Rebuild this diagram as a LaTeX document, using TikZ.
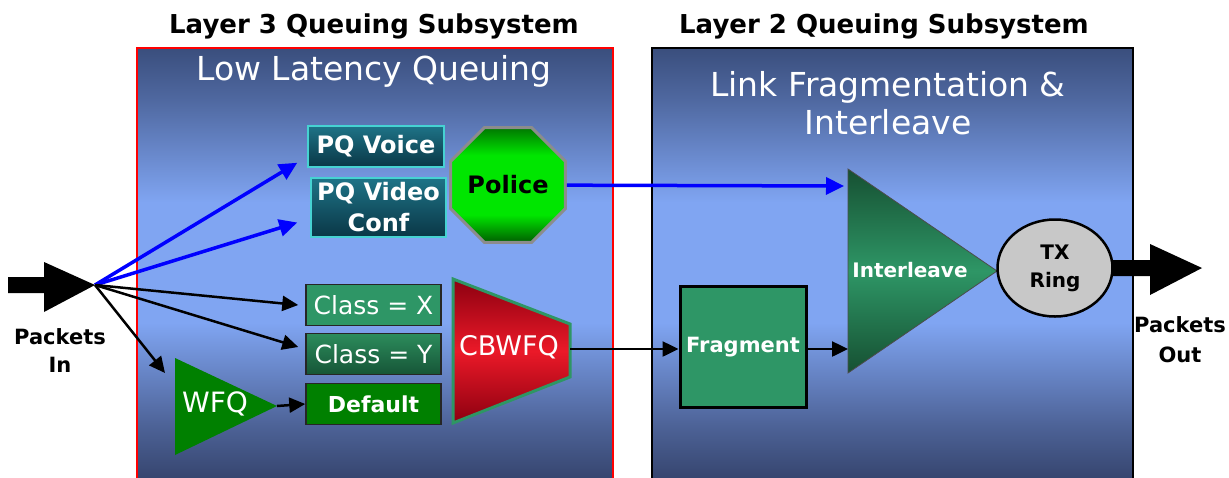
\documentclass[tikz,border=0pt]{standalone}
\usepackage{fontspec}
\setmainfont{DejaVu Sans}
\usetikzlibrary{shapes.geometric,arrows.meta,calc}
\definecolor{panTop}{RGB}{58,78,125}
\definecolor{panMid}{RGB}{128,165,242}
\definecolor{panBot}{RGB}{55,70,112}
\definecolor{pqTop}{RGB}{30,115,135}
\definecolor{pqBot}{RGB}{10,55,70}
\definecolor{pqBorder}{RGB}{70,210,210}
\definecolor{polTop}{RGB}{0,120,0}
\definecolor{polMid}{RGB}{0,230,0}
\definecolor{polBot}{RGB}{0,95,0}
\definecolor{polBorder}{RGB}{140,140,140}
\definecolor{clsX}{RGB}{46,150,102}
\definecolor{clsYTop}{RGB}{44,140,92}
\definecolor{clsYBot}{RGB}{22,85,55}
\definecolor{dflt}{RGB}{0,128,0}
\definecolor{wfqGreen}{RGB}{0,128,0}
\definecolor{cbDark}{RGB}{140,0,16}
\definecolor{cbRed}{RGB}{235,25,40}
\definecolor{cbBorder}{RGB}{46,150,100}
\definecolor{fragGreen}{RGB}{46,150,102}
\definecolor{ilvDark}{RGB}{22,80,50}
\definecolor{ilvMid}{RGB}{46,150,102}
\definecolor{txFill}{RGB}{200,200,200}
\definecolor{arrBlue}{RGB}{0,0,255}
\pgfdeclareverticalshading{panelshade}{100bp}{color(0bp)=(panBot); color(25bp)=(panBot); color(31bp)=(panBot!70!panMid); color(43bp)=(panMid); color(57bp)=(panMid); color(69bp)=(panTop!70!panMid); color(75bp)=(panTop); color(100bp)=(panTop)}
\pgfdeclareverticalshading{policeshade}{100bp}{color(0bp)=(polBot); color(25bp)=(polBot); color(37bp)=(polMid); color(63bp)=(polMid); color(75bp)=(polTop); color(100bp)=(polTop)}
\newcommand{\fsz}[2]{\fontsize{#1}{#2}\selectfont}
\begin{document}
\begin{tikzpicture}[x=1pt,y=-1pt,
  title/.style={font=\fsz{26}{30}\bfseries, text=black, inner sep=0},
  paneltitle/.style={font=\fsz{33}{38}, text=white, inner sep=0, align=center},
  pqbox/.style={draw=pqBorder, line width=1.5pt, top color=pqTop, bottom color=pqBot, text=white, font=\bfseries\fsz{24}{31}, inner sep=0},
  classbox/.style={draw=black!85, line width=1.5pt, minimum width=135pt, minimum height=41pt, text=white, inner sep=0},
  lbl/.style={text=black, align=center, inner sep=0},
  barrow/.style={line width=2.5pt, -{Triangle[length=16pt,width=15pt]}},
  bluearrow/.style={draw=arrBlue, line width=3.5pt, -{Triangle[length=18pt,width=17pt]}}
]
\useasboundingbox (0,0) rectangle (1229,477);

% panels
\shade[shading=panelshade] (137,48) rectangle (613,477);
\draw[red, line width=1.5pt] (137,478) -- (137,48) -- (613,48) -- (613,478);
\shade[shading=panelshade] (652,48) rectangle (1133,477);
\draw[black, line width=1.5pt] (652,478) -- (652,48) -- (1133,48) -- (1133,478);

% titles
\node[title] (t3) at (374,26) {Layer 3 Queuing Subsystem};
\node[title] (t2) at (884,26) {Layer 2 Queuing Subsystem};
\node[paneltitle] (llq) at (374,71) {Low Latency Queuing};
\node[paneltitle] (lfi) at (888,103) {Link Fragmentation \&\\Interleave};

% packets in
\fill[black] (8,277) -- (44,277) -- (44,262) -- (95,285) -- (44,312) -- (44,293) -- (8,293) -- cycle;
\coordinate (pin) at (95,285);
\node[lbl, font=\bfseries\fsz{21}{28}] (pinlbl) at (60,351) {Packets\\In};

% PQ boxes
\node[pqbox, minimum width=136pt, minimum height=41pt] (pqv) at (376,146.5) {PQ Voice};
\node[pqbox, minimum width=135pt, minimum height=59pt, align=center] (pqvc) at (378.5,207.5) {PQ Video\\Conf};

% police
\node[regular polygon, regular polygon sides=8, minimum size=104pt, inner sep=0,
      draw=polBorder, line width=3pt, shading=policeshade,
      font=\bfseries\fsz{24}{28}, text=black] (pol) at (508,185) {Police};

% class boxes
\node[classbox, fill=clsX, font=\fsz{25}{28}] (cx) at (373.5,305) {Class = X};
\node[classbox, top color=clsYTop, bottom color=clsYBot, font=\fsz{25}{28}] (cy) at (373.5,354) {Class = Y};
\node[classbox, fill=dflt, font=\bfseries\fsz{22}{26}] (dft) at (373.5,404) {Default};

% WFQ
\fill[wfqGreen] (175,358) -- (277,406) -- (175,455) -- cycle;
\coordinate (wfqtip) at (277,406);
\coordinate (wfqin) at (165,373);
\node[font=\fsz{28}{30}, text=white, inner sep=0] (wfq) at (215,404) {WFQ};

% CBWFQ
\shadedraw[top color=cbDark, bottom color=cbDark, middle color=cbRed, draw=cbBorder, line width=3pt]
  (453,279) -- (570,324) -- (570,377) -- (453,423) -- cycle;
\coordinate (cbout) at (570,349);
\node[font=\fsz{27}{30}, text=white, inner sep=0] (cbwfq) at (509,347) {CBWFQ};

% Fragment
\node[draw=black, line width=3pt, fill=fragGreen, minimum width=126pt, minimum height=121pt,
      text=white, font=\bfseries\fsz{21}{24}, inner sep=0] (frag) at (743,347) {Fragment};

% Interleave
\shadedraw[top color=ilvDark, bottom color=ilvDark, middle color=ilvMid, draw=black!70, line width=0.8pt]
  (848,169) -- (997,271) -- (848,373) -- cycle;
\coordinate (ilvin1) at (848,186);
\coordinate (ilvin2) at (848,349);
\node[font=\bfseries\fsz{20}{24}, text=white, inner sep=0] (ilv) at (910,270) {Interleave};

% TX ring
\node[ellipse, draw=black, line width=2.5pt, fill=txFill, minimum width=115pt, minimum height=97pt,
      inner sep=0, align=center, font=\bfseries\fsz{20}{28}, text=black] (txr) at (1055,268) {TX\\Ring};

% packets out
\fill[black] (1112,260) -- (1150,260) -- (1150,244) -- (1202,268) -- (1150,295) -- (1150,276) -- (1112,276) -- cycle;
\node[lbl, font=\bfseries\fsz{21}{30}] (poutlbl) at (1180,340) {Packets\\Out};

% connectors
\draw[bluearrow] (pin) -- ([xshift=-10pt,yshift=5pt]pqv.south west);
\draw[bluearrow] (pin) -- ([xshift=-13pt,yshift=-15pt]pqvc.west);
\draw[barrow] (pin) -- ([xshift=-7pt]cx.west);
\draw[barrow] (pin) -- ([xshift=-7pt,yshift=7pt]cy.west);
\draw[barrow] (pin) -- (wfqin);
\draw[barrow] (wfqtip) -- (dft.west);
\draw[barrow] (cbout) -- (cbout -| frag.west);
\draw[barrow] (cbout -| frag.east) -- (ilvin2);
\draw[bluearrow, shorten >=4pt] (pol) -- (ilvin1);
\end{tikzpicture}
\end{document}
